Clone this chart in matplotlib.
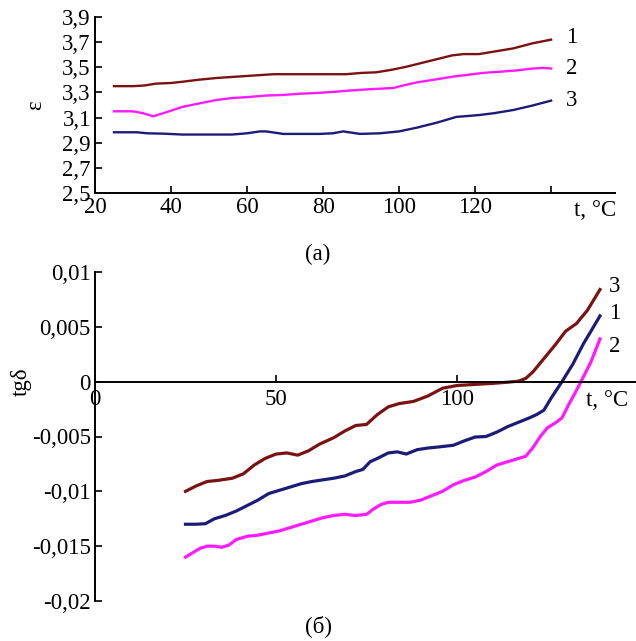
import numpy as np
import matplotlib.pyplot as plt

plt.rcParams['font.family'] = ['Liberation Serif', 'DejaVu Serif']

# --- (a) permittivity vs temperature ---
t1a = [25, 30, 33, 36, 40, 43, 47, 52, 57, 62, 67, 72, 77, 82, 86, 90, 94, 98, 102, 106, 110, 114, 117, 121, 125, 130, 135, 140]
eps1 = [3.35, 3.35, 3.355, 3.37, 3.375, 3.385, 3.40, 3.415, 3.425, 3.435, 3.445, 3.445, 3.445, 3.445, 3.445, 3.455, 3.46, 3.48, 3.505, 3.535, 3.565, 3.595, 3.605, 3.605, 3.625, 3.65, 3.69, 3.72]

t2a = [25, 30, 32.6, 35.3, 39, 43, 47, 52, 56, 61, 65, 69.5, 74, 78, 83, 87, 92, 98.5, 101, 104.7, 110, 114, 118, 122, 126.6, 131, 135, 138, 140]
eps2 = [3.15, 3.15, 3.135, 3.11, 3.145, 3.185, 3.21, 3.24, 3.255, 3.265, 3.275, 3.28, 3.29, 3.295, 3.305, 3.315, 3.325, 3.335, 3.355, 3.38, 3.405, 3.425, 3.44, 3.455, 3.465, 3.475, 3.49, 3.495, 3.49]

t3a = [25, 31, 33.7, 38, 43, 50, 56, 60, 63.4, 65, 69.5, 74, 79, 82.6, 85.3, 89.7, 95, 100, 104.7, 110, 115, 121, 125, 130, 135, 140]
eps3 = [2.983, 2.983, 2.975, 2.972, 2.965, 2.965, 2.965, 2.975, 2.99, 2.99, 2.97, 2.97, 2.97, 2.975, 2.99, 2.97, 2.975, 2.99, 3.02, 3.06, 3.105, 3.12, 3.135, 3.16, 3.195, 3.235]

xticks_a = [20, 40, 60, 80, 100, 120, 140]
xlabels_a = ['20', '40', '60', '80', '100', '120', '']
yticks_a = [2.5, 2.7, 2.9, 3.1, 3.3, 3.5, 3.7, 3.9]
ylabels_a = ['2,5', '2,7', '2,9', '3,1', '3,3', '3,5', '3,7', '3,9']

# --- (б) loss tangent (x1e-3) vs temperature ---
t3b = [25, 28, 31, 34, 38, 41, 44, 47, 50, 53, 56, 59, 62, 66, 69, 72, 75, 78, 81, 84, 88, 92, 96, 100, 105, 110, 114, 117, 119, 121, 124, 127, 130, 133, 136, 139.5]
tg3 = [-10.0, -9.5, -9.1, -9.0, -8.8, -8.4, -7.6, -7.0, -6.6, -6.5, -6.7, -6.3, -5.7, -5.1, -4.5, -4.0, -3.9, -3.0, -2.3, -2.0, -1.8, -1.3, -0.6, -0.35, -0.25, -0.15, -0.05, 0.05, 0.3, 0.9, 2.1, 3.3, 4.6, 5.3, 6.5, 8.4]

t1b = [25, 28, 30.5, 33, 36, 39, 42, 45, 48, 51, 54, 57, 60, 63, 66, 69, 72, 74, 76, 78, 81, 83.5, 86, 89, 92, 95, 99, 102, 105, 108, 111, 114, 117, 120, 122, 124, 126, 129, 132, 135, 137, 139.5]
tg1 = [-13.0, -13.0, -12.95, -12.5, -12.2, -11.8, -11.3, -10.8, -10.2, -9.9, -9.6, -9.3, -9.1, -8.95, -8.8, -8.6, -8.2, -8.0, -7.3, -7.0, -6.5, -6.4, -6.6, -6.2, -6.05, -5.95, -5.8, -5.4, -5.05, -5.0, -4.6, -4.1, -3.7, -3.3, -3.0, -2.6, -1.5, 0.0, 1.6, 3.5, 4.6, 6.0]

t2b = [25, 27, 29, 31, 33, 35, 37, 39, 42, 45, 48, 51, 54, 57, 60, 63, 66, 69, 72, 75, 77, 79, 81, 84, 87, 90, 93, 96, 99, 102, 105, 108, 111, 114, 117, 119, 121, 123, 125, 127, 129, 131, 133, 135, 137, 139.5]
tg2 = [-16.0, -15.6, -15.2, -15.0, -15.0, -15.1, -14.9, -14.4, -14.1, -14.0, -13.8, -13.6, -13.3, -13.0, -12.7, -12.4, -12.2, -12.1, -12.2, -12.1, -11.6, -11.2, -11.0, -11.0, -11.0, -10.8, -10.4, -10.0, -9.4, -9.0, -8.7, -8.2, -7.6, -7.3, -7.0, -6.8, -6.0, -5.0, -4.2, -3.8, -3.3, -2.0, -0.8, 0.5, 1.8, 3.9]

xticks_b = [0, 50, 100, 150]
xlabels_b = ['0', '50', '100', '']
yticks_b = [0.01, 0.005, 0, -0.005, -0.01, -0.015, -0.02]
ylabels_b = ['0,01', '0,005', '0', '-0,005', '-0,01', '-0,015', '-0,02']

c_brown = '#7b1212'
c_mag = '#ff1aff'
c_navy = '#1c1c78'
fs = 16.5

fig = plt.figure(figsize=(6.36, 6.41), dpi=100)

# %% panel (a)
ax1 = fig.add_axes([95/636, 1-193/641, (615-95)/636, 176/641])
ax1.plot(t1a, eps1, color=c_brown, lw=1.7)
ax1.plot(t2a, eps2, color=c_mag, lw=1.7)
ax1.plot(t3a, eps3, color=c_navy, lw=1.7)
ax1.set_xlim(20, 156.8)
ax1.set_ylim(2.5, 3.9)
ax1.set_xticks(xticks_a)
ax1.set_xticklabels(xlabels_a)
ax1.set_yticks(yticks_a)
ax1.set_yticklabels(ylabels_a)
for s in ['top', 'right']:
    ax1.spines[s].set_visible(False)
for s in ['left', 'bottom']:
    ax1.spines[s].set_linewidth(1.4)
ax1.tick_params(direction='in', length=5, width=1.2, labelsize=fs, pad=3)
ax1.text(-0.115, 0.5, 'ε', transform=ax1.transAxes, rotation=90,
         fontsize=fs, ha='center', va='center')
ax1.text(146, 2.5 - 0.055, 't, °C', fontsize=fs, ha='left', va='top', clip_on=False)
ax1.text(144, eps1[-1] + 0.02, '1', fontsize=fs, va='center')
ax1.text(144, eps2[-1], '2', fontsize=fs, va='center')
ax1.text(144, eps3[-1], '3', fontsize=fs, va='center')
fig.text(318/636, 1-254/641, '(a)', fontsize=fs, ha='center', va='center')

# %% panel (б)
ax2 = fig.add_axes([95/636, 1-601/641, (638-95)/636, (601-272)/641])
ax2.plot(t3b, np.array(tg3)*1e-3, color=c_brown, lw=2.3)
ax2.plot(t1b, np.array(tg1)*1e-3, color=c_navy, lw=2.3)
ax2.plot(t2b, np.array(tg2)*1e-3, color=c_mag, lw=2.3)
ax2.set_xlim(0, 150)
ax2.set_ylim(-0.02, 0.01)
ax2.spines['bottom'].set_position(('data', 0))
ax2.set_xticks(xticks_b)
ax2.set_xticklabels(xlabels_b)
ax2.set_yticks(yticks_b)
ax2.set_yticklabels(ylabels_b)
for s in ['top', 'right']:
    ax2.spines[s].set_visible(False)
for s in ['left', 'bottom']:
    ax2.spines[s].set_linewidth(1.4)
ax2.tick_params(direction='in', length=5, width=1.2, labelsize=fs, pad=3)
ax2.tick_params(axis='x', pad=5)
ax2.text(-0.135, 2/3, 'tgδ', transform=ax2.transAxes, rotation=90,
         fontsize=fs, ha='center', va='center')
ax2.text(135.5, -0.0008, 't, °C', fontsize=fs, ha='left', va='top')
ax2.text(142, 0.0087, '3', fontsize=fs, va='center')
ax2.text(142, 0.0062, '1', fontsize=fs, va='center')
ax2.text(142, 0.0032, '2', fontsize=fs, va='center')
fig.text(318/636, 1-626/641, '(б)', fontsize=fs, ha='center', va='center')

fig.savefig('out.png', dpi=100, facecolor='white')
